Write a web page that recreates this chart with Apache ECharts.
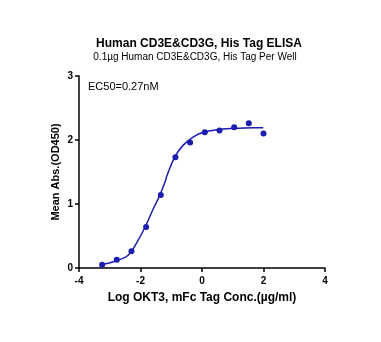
<!DOCTYPE html>
<html>
<head>
<meta charset="utf-8">
<script src="https://cdn.jsdelivr.net/npm/echarts@6/dist/echarts.min.js"></script>
<style>
html,body{margin:0;padding:0;background:#fff;}
#chart{width:381px;height:342px;}
</style>
</head>
<body>
<div id="chart"></div>
<script>
// Measured points: log concentration (µg/ml) and mean OD450
const logConc = [-3.248, -2.771, -2.294, -1.817, -1.340, -0.863, -0.386, 0.092, 0.569, 1.046, 1.523, 2.0];
const meanOD  = [0.05, 0.13, 0.26, 0.64, 1.14, 1.73, 1.96, 2.12, 2.15, 2.20, 2.26, 2.10];

// Fitted dose-response curve, sampled along its path
const curveX = [-3.28, -2.80, -2.40, -2.07, -1.85, -1.58, -1.37, -1.18, -1.15, -0.88, -0.61, -0.28, 0.04, 0.48, 1.02, 1.67, 1.99];
const curveY = [0.05, 0.11, 0.20, 0.44, 0.64, 0.93, 1.14, 1.375, 1.43, 1.74, 1.92, 2.05, 2.12, 2.16, 2.18, 2.19, 2.19];

const xTicks = [-4, -2, 0, 2, 4];
const yTicks = [0, 1, 2, 3];

const blue = '#1c1cb0';
const font = 'Arial, "Liberation Sans", sans-serif';

const chart = echarts.init(document.getElementById('chart'));
chart.setOption({
  animation: false,
  backgroundColor: '#fff',
  title: [{
    text: 'Human CD3E&CD3G, His Tag ELISA',
    left: 199, top: 38, textAlign: 'center', padding: 0,
    textStyle: {fontFamily: font, fontSize: 12, fontWeight: 'bold', color: '#000'}
  }, {
    text: '0.1µg Human CD3E&CD3G, His Tag Per Well',
    left: 195, top: 52, textAlign: 'center', padding: 0,
    textStyle: {fontFamily: font, fontSize: 10, fontWeight: 'normal', color: '#000'}
  }, {
    text: 'EC50=0.27nM',
    left: 88, top: 81, padding: 0,
    textStyle: {fontFamily: font, fontSize: 11, fontWeight: 'normal', color: '#000'}
  }],
  grid: {left: 79, right: 56, top: 76, bottom: 74},
  xAxis: {
    type: 'value', min: xTicks[0], max: xTicks[xTicks.length - 1], interval: 2,
    name: 'Log OKT3, mFc Tag Conc.(µg/ml)', nameLocation: 'middle', nameGap: 24,
    nameMoveOverlap: false,
    nameTextStyle: {fontFamily: font, fontSize: 12, fontWeight: 'bold', color: '#000'},
    axisLine: {onZero: false, lineStyle: {color: '#000', width: 1.5}},
    axisTick: {show: true, inside: false, length: 4, lineStyle: {color: '#000', width: 1.5}},
    axisLabel: {fontFamily: font, fontSize: 10, fontWeight: 'bold', color: '#000', margin: 8},
    splitLine: {show: false}
  },
  yAxis: {
    type: 'value', min: yTicks[0], max: yTicks[yTicks.length - 1], interval: 1,
    name: 'Mean Abs.(OD450)', nameLocation: 'middle', nameGap: 18,
    nameMoveOverlap: false,
    nameTextStyle: {fontFamily: font, fontSize: 11, fontWeight: 'bold', color: '#000'},
    axisLine: {show: true, onZero: false, lineStyle: {color: '#000', width: 1.5}},
    axisTick: {show: true, inside: false, length: 4, lineStyle: {color: '#000', width: 1.5}},
    axisLabel: {fontFamily: font, fontSize: 10, fontWeight: 'bold', color: '#000', margin: 6},
    splitLine: {show: false}
  },
  series: [{
    type: 'line',
    data: curveX.map((x, i) => [x, curveY[i]]),
    smooth: 0.4,
    showSymbol: false,
    lineStyle: {color: blue, width: 1.5},
    z: 2
  }, {
    type: 'scatter',
    data: logConc.map((x, i) => [x, meanOD[i]]),
    symbol: 'circle',
    symbolSize: 6,
    itemStyle: {color: blue, opacity: 1},
    z: 3
  }]
});
</script>
</body>
</html>
